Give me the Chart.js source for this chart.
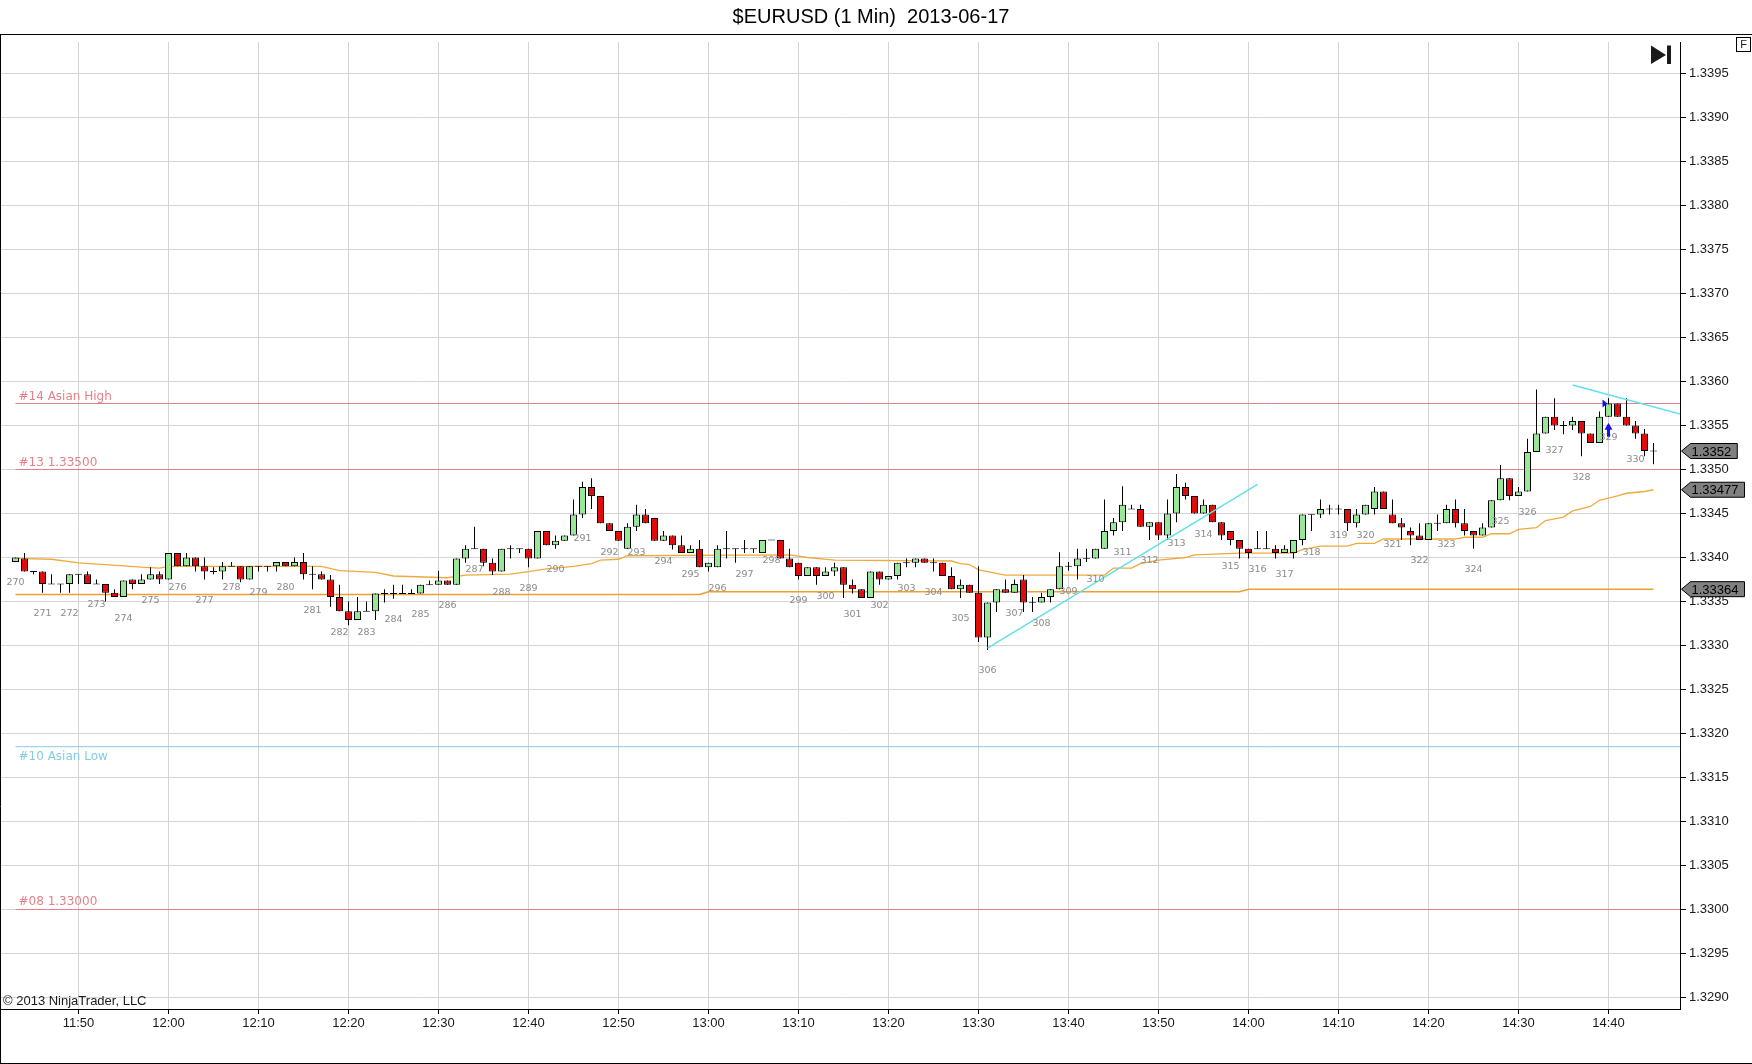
<!DOCTYPE html>
<html>
<head>
<meta charset="utf-8">
<script src="https://cdn.jsdelivr.net/npm/chart.js@4.4.1/dist/chart.umd.min.js"></script>
<style>
  html, body { margin: 0; padding: 0; background: #fff; }
  #wrap { width: 1752px; height: 1064px; position: relative; }
</style>
</head>
<body>
<div id="wrap"><canvas id="chart"></canvas></div>
<script>
// $EURUSD 1 minute bars, first bar at 11:43
const firstBar = '11:43';

const opens = [
  1.33395,1.33399,1.33384,1.33384,1.33370,1.33370,1.33370,1.33381,1.33381,1.33370,
  1.33370,1.33360,1.33355,1.33375,1.33370,1.33375,1.33381,1.33375,1.33405,1.33390,
  1.33400,1.33390,1.33384,1.33384,1.33390,1.33390,1.33375,1.33390,1.33390,1.33390,
  1.33395,1.33390,1.33395,1.33381,1.33381,1.33375,1.33355,1.33339,1.33329,1.33339,
  1.33339,1.33359,1.33359,1.33359,1.33359,1.33359,1.33369,1.33369,1.33374,1.33369,
  1.33399,1.33410,1.33410,1.33394,1.33384,1.33410,1.33410,1.33410,1.33399,1.33430,
  1.33414,1.33419,1.33425,1.33449,1.33480,1.33470,1.33439,1.33430,1.33410,1.33435,
  1.33449,1.33445,1.33419,1.33425,1.33414,1.33405,1.33410,1.33389,1.33389,1.33410,
  1.33410,1.33410,1.33410,1.33405,1.33420,1.33420,1.33399,1.33394,1.33379,1.33389,
  1.33379,1.33384,1.33389,1.33369,1.33364,1.33354,1.33384,1.33375,1.33379,1.33394,
  1.33394,1.33399,1.33394,1.33394,1.33379,1.33364,1.33369,1.33360,1.33309,1.33349,
  1.33364,1.33360,1.33375,1.33349,1.33349,1.33355,1.33364,1.33390,1.33390,1.33399,
  1.33399,1.33410,1.33430,1.33440,1.33455,1.33455,1.33435,1.33440,1.33425,1.33450,
  1.33480,1.33470,1.33450,1.33460,1.33440,1.33430,1.33420,1.33410,1.33410,1.33410,
  1.33410,1.33405,1.33405,1.33420,1.33449,1.33449,1.33455,1.33455,1.33455,1.33439,
  1.33449,1.33455,1.33475,1.33449,1.33439,1.33430,1.33425,1.33420,1.33439,1.33439,
  1.33455,1.33439,1.33430,1.33425,1.33434,1.33465,1.33490,1.33470,1.33475,1.33520,
  1.33541,1.33560,1.33550,1.33550,1.33555,1.33541,1.33530,1.33560,1.33575,1.33560,
  1.33550,1.33541,1.33521
];
const highs = [
  1.33400,1.33405,1.33384,1.33384,1.33381,1.33370,1.33381,1.33381,1.33384,1.33375,
  1.33370,1.33364,1.33374,1.33375,1.33381,1.33389,1.33384,1.33405,1.33405,1.33405,
  1.33400,1.33400,1.33389,1.33395,1.33395,1.33390,1.33390,1.33390,1.33390,1.33395,
  1.33395,1.33400,1.33405,1.33390,1.33384,1.33380,1.33369,1.33350,1.33355,1.33350,
  1.33359,1.33364,1.33369,1.33369,1.33364,1.33369,1.33374,1.33385,1.33374,1.33399,
  1.33414,1.33435,1.33410,1.33399,1.33410,1.33414,1.33410,1.33410,1.33430,1.33430,
  1.33425,1.33425,1.33466,1.33486,1.33490,1.33470,1.33439,1.33430,1.33439,1.33460,
  1.33455,1.33445,1.33430,1.33425,1.33425,1.33414,1.33420,1.33394,1.33414,1.33430,
  1.33410,1.33420,1.33410,1.33420,1.33420,1.33420,1.33410,1.33394,1.33389,1.33389,
  1.33389,1.33394,1.33389,1.33375,1.33364,1.33384,1.33384,1.33379,1.33394,1.33399,
  1.33399,1.33399,1.33399,1.33394,1.33389,1.33375,1.33369,1.33390,1.33349,1.33364,
  1.33375,1.33375,1.33380,1.33355,1.33360,1.33364,1.33406,1.33395,1.33410,1.33410,
  1.33410,1.33466,1.33445,1.33481,1.33460,1.33460,1.33440,1.33440,1.33466,1.33495,
  1.33485,1.33470,1.33466,1.33460,1.33440,1.33430,1.33420,1.33410,1.33430,1.33430,
  1.33414,1.33414,1.33420,1.33449,1.33449,1.33466,1.33460,1.33460,1.33455,1.33455,
  1.33460,1.33480,1.33475,1.33466,1.33445,1.33434,1.33439,1.33439,1.33449,1.33460,
  1.33466,1.33455,1.33430,1.33439,1.33465,1.33505,1.33490,1.33480,1.33535,1.33591,
  1.33560,1.33581,1.33555,1.33560,1.33555,1.33541,1.33566,1.33581,1.33575,1.33581,
  1.33555,1.33546,1.33530
];
const lows = [
  1.33395,1.33384,1.33381,1.33360,1.33370,1.33360,1.33360,1.33370,1.33370,1.33370,
  1.33350,1.33355,1.33355,1.33364,1.33370,1.33375,1.33370,1.33375,1.33390,1.33390,
  1.33384,1.33375,1.33381,1.33375,1.33390,1.33372,1.33375,1.33384,1.33384,1.33384,
  1.33390,1.33390,1.33375,1.33364,1.33375,1.33344,1.33339,1.33323,1.33329,1.33339,
  1.33329,1.33349,1.33353,1.33359,1.33359,1.33359,1.33369,1.33369,1.33369,1.33369,
  1.33394,1.33410,1.33390,1.33380,1.33384,1.33399,1.33405,1.33389,1.33399,1.33414,
  1.33410,1.33419,1.33425,1.33445,1.33455,1.33439,1.33430,1.33419,1.33410,1.33430,
  1.33439,1.33419,1.33419,1.33409,1.33405,1.33405,1.33389,1.33384,1.33389,1.33399,
  1.33394,1.33405,1.33405,1.33405,1.33420,1.33399,1.33389,1.33375,1.33379,1.33369,
  1.33379,1.33379,1.33354,1.33359,1.33354,1.33354,1.33369,1.33375,1.33375,1.33389,
  1.33389,1.33394,1.33384,1.33379,1.33364,1.33354,1.33360,1.33304,1.33295,1.33338,
  1.33360,1.33360,1.33338,1.33338,1.33349,1.33349,1.33364,1.33385,1.33375,1.33395,
  1.33399,1.33410,1.33425,1.33430,1.33455,1.33435,1.33420,1.33420,1.33420,1.33440,
  1.33466,1.33450,1.33450,1.33440,1.33420,1.33414,1.33399,1.33399,1.33410,1.33410,
  1.33399,1.33405,1.33399,1.33414,1.33430,1.33445,1.33449,1.33449,1.33430,1.33434,
  1.33449,1.33449,1.33455,1.33439,1.33420,1.33414,1.33420,1.33420,1.33430,1.33439,
  1.33434,1.33425,1.33410,1.33425,1.33434,1.33465,1.33465,1.33470,1.33475,1.33520,
  1.33541,1.33545,1.33540,1.33545,1.33515,1.33530,1.33530,1.33560,1.33560,1.33550,
  1.33535,1.33515,1.33506
];
const closes = [
  1.33400,1.33384,1.33384,1.33370,1.33370,1.33370,1.33381,1.33381,1.33370,1.33370,
  1.33360,1.33355,1.33374,1.33370,1.33375,1.33381,1.33375,1.33405,1.33390,1.33400,
  1.33390,1.33384,1.33384,1.33390,1.33390,1.33375,1.33390,1.33390,1.33390,1.33395,
  1.33390,1.33395,1.33381,1.33381,1.33375,1.33355,1.33339,1.33329,1.33339,1.33339,
  1.33359,1.33359,1.33359,1.33359,1.33359,1.33369,1.33369,1.33374,1.33369,1.33399,
  1.33410,1.33410,1.33394,1.33384,1.33410,1.33410,1.33410,1.33399,1.33430,1.33414,
  1.33419,1.33425,1.33449,1.33480,1.33470,1.33439,1.33430,1.33419,1.33435,1.33449,
  1.33439,1.33419,1.33425,1.33414,1.33405,1.33410,1.33389,1.33394,1.33410,1.33410,
  1.33410,1.33410,1.33410,1.33420,1.33420,1.33399,1.33389,1.33379,1.33389,1.33379,
  1.33384,1.33389,1.33369,1.33364,1.33354,1.33384,1.33375,1.33379,1.33394,1.33394,
  1.33399,1.33394,1.33394,1.33379,1.33364,1.33369,1.33360,1.33309,1.33349,1.33364,
  1.33360,1.33370,1.33349,1.33349,1.33355,1.33364,1.33390,1.33390,1.33399,1.33399,
  1.33410,1.33430,1.33440,1.33460,1.33455,1.33435,1.33440,1.33425,1.33450,1.33480,
  1.33470,1.33450,1.33460,1.33440,1.33425,1.33420,1.33410,1.33405,1.33410,1.33410,
  1.33405,1.33410,1.33420,1.33449,1.33449,1.33455,1.33455,1.33455,1.33439,1.33449,
  1.33460,1.33475,1.33455,1.33439,1.33434,1.33425,1.33420,1.33439,1.33439,1.33455,
  1.33439,1.33430,1.33425,1.33434,1.33465,1.33490,1.33470,1.33475,1.33520,1.33541,
  1.33560,1.33550,1.33550,1.33555,1.33541,1.33530,1.33560,1.33575,1.33560,1.33550,
  1.33541,1.33521,1.33521
];

// bar counter printed under every third bar
const countLabels = [
  270,271,272,273,274,275,276,277,278,279,280,281,282,283,284,285,286,287,288,289,
  290,291,292,293,294,295,296,297,298,299,300,301,302,303,304,305,306,307,308,309,
  310,311,312,313,314,315,316,317,318,319,320,321,322,323,324,325,326,327,328,329,330
];

// orange indicator lines (vertices)
const upperTimes = ['11:43','11:47','11:50','11:53','11:57','11:59','12:00','12:17','12:19','12:23',
  '12:25','12:31','12:33','12:38','12:40','12:42','12:45','12:47','12:48','12:50',
  '12:51','13:09','13:11','13:14','13:27','13:28','13:29','13:30','13:33','13:44',
  '13:45','13:47','13:48','13:50','13:53','13:54','13:59','14:05','14:06','14:08',
  '14:11','14:12','14:14','14:15','14:23','14:24','14:26','14:27','14:29','14:30',
  '14:32','14:33','14:35','14:36','14:38','14:39','14:41','14:42','14:44','14:45'];
const upperValues = [1.33399,1.33398,1.33394,1.33392,1.33389,1.33388,1.33390,1.33390,1.33385,1.33383,
  1.33379,1.33377,1.33380,1.33381,1.33384,1.33387,1.33390,1.33393,1.33397,1.33398,
  1.33402,1.33403,1.33400,1.33397,1.33396,1.33393,1.33392,1.33386,1.33380,1.33380,
  1.33388,1.33388,1.33393,1.33397,1.33400,1.33403,1.33405,1.33405,1.33409,1.33413,
  1.33413,1.33416,1.33416,1.33421,1.33421,1.33423,1.33423,1.33427,1.33427,1.33432,
  1.33434,1.33442,1.33446,1.33453,1.33458,1.33465,1.33470,1.33473,1.33475,1.33477];
const lowerTimes = ['11:43','12:59','13:00','13:59','14:00','14:45'];
const lowerValues = [1.33358,1.33358,1.33361,1.33361,1.33364,1.33364];

// cyan trend lines
const trendATimes = ['13:31','14:01'];
const trendAValues = [1.33297,1.33483];
const trendBTimes = ['14:36','14:48'];
const trendBValues = [1.33596,1.33563];

// horizontal levels
const levelValues = [1.33575, 1.33500, 1.33185, 1.33000];
const levelNames = ['#14 Asian High', '#13 1.33500', '#10 Asian Low', '#08 1.33000'];

// long entry
const entryTime = '14:40';
const entryPrice = 1.33575;

const xTickLabels = ['11:50','12:00','12:10','12:20','12:30','12:40','12:50','13:00','13:10',
  '13:20','13:30','13:40','13:50','14:00','14:10','14:20','14:30','14:40'];
const yTicks = [1.3290,1.3295,1.3300,1.3305,1.3310,1.3315,1.3320,1.3325,1.3330,1.3335,1.3340,
  1.3345,1.3350,1.3355,1.3360,1.3365,1.3370,1.3375,1.3380,1.3385,1.3390,1.3395];

const UP = '#98e698', DOWN = '#e20a0a', ORANGE = '#f0aa3c', CYAN = '#5fe1ec';
const LEVEL_RED = '#e5808a', LEVEL_BLUE = '#86cbe3';
const levelColors = [LEVEL_RED, LEVEL_RED, LEVEL_BLUE, LEVEL_RED];
const levelTextOffset = [-4, -4, 13, -4]; // Asian Low text sits under its line

function barIndex(t) {
  const [h, m] = t.split(':').map(Number);
  const [h0, m0] = firstBar.split(':').map(Number);
  return h * 60 + m - (h0 * 60 + m0);
}
function pts(times, values) {
  return times.map((t, i) => ({x: barIndex(t), y: values[i]}));
}

const xMin = -1.6111, xMax = 184.944;
const yMin = 1.3288693, yMax = 1.3398580;

const bodyData = [], wickData = [], bodyColors = [];
for (let i = 0; i < opens.length; i++) {
  const o = opens[i], c = closes[i];
  let lo = Math.min(o, c), hi = Math.max(o, c);
  if (hi - lo < 0.000009) { const m = (hi + lo) / 2; lo = m - 0.0000055; hi = m + 0.0000055; }
  bodyData.push({x: i, y: [lo, hi]});
  wickData.push({x: i, y: [lows[i], highs[i]]});
  bodyColors.push(c > o ? UP : (c < o ? DOWN : '#000'));
}

const datasets = [];
levelValues.forEach((v, i) => {
  datasets.push({type: 'line', data: [{x: 0, y: v}, {x: xMax + 1, y: v}], borderColor: levelColors[i],
    borderWidth: 1, pointRadius: 0, order: 6});
});
datasets.push({type: 'line', data: pts(upperTimes, upperValues), borderColor: ORANGE, borderWidth: 1.3,
  pointRadius: 0, tension: 0, order: 5});
datasets.push({type: 'line', data: pts(lowerTimes, lowerValues), borderColor: '#eba030', borderWidth: 1.6,
  pointRadius: 0, tension: 0, order: 5});
datasets.push({type: 'bar', data: wickData, backgroundColor: '#000', borderWidth: 0, barThickness: 1,
  grouped: false, inflateAmount: 0, order: 2});
datasets.push({type: 'bar', data: bodyData, backgroundColor: bodyColors, borderColor: '#000', borderWidth: 1,
  borderSkipped: false, barThickness: 7, grouped: false, inflateAmount: 0, order: 1});
datasets.push({type: 'line', data: pts(trendATimes, trendAValues), borderColor: CYAN, borderWidth: 1.5,
  pointRadius: 0, order: 0});
datasets.push({type: 'line', data: pts(trendBTimes, trendBValues), borderColor: CYAN, borderWidth: 1.5,
  pointRadius: 0, order: 0});

function priceBox(ctx, y, text) {
  ctx.font = '13px Arial';
  const x0 = 1681.5, tw = ctx.measureText(text).width;
  const xr = x0 + 10 + tw + 6;
  ctx.beginPath();
  ctx.moveTo(x0, y);
  ctx.lineTo(x0 + 9, y - 7.5);
  ctx.lineTo(xr, y - 7.5);
  ctx.lineTo(xr, y + 7.5);
  ctx.lineTo(x0 + 9, y + 7.5);
  ctx.closePath();
  ctx.fillStyle = '#808080';
  ctx.fill();
  ctx.strokeStyle = '#000';
  ctx.lineWidth = 1;
  ctx.stroke();
  ctx.fillStyle = '#000';
  ctx.textAlign = 'left';
  ctx.textBaseline = 'middle';
  ctx.fillText(text, x0 + 10, y + 1);
}

const overlay = {
  id: 'overlay',
  afterDatasetsDraw(chart) {
    const ctx = chart.ctx, xs = chart.scales.x, ys = chart.scales.y;
    ctx.save();
    ctx.beginPath();
    ctx.rect(chart.chartArea.left, chart.chartArea.top, chart.chartArea.right - chart.chartArea.left,
      chart.chartArea.bottom - chart.chartArea.top);
    ctx.clip();
    // level names
    ctx.font = '12px "DejaVu Sans", Verdana, sans-serif';
    ctx.textAlign = 'left';
    ctx.textBaseline = 'alphabetic';
    levelValues.forEach((v, i) => {
      ctx.fillStyle = levelColors[i];
      ctx.fillText(levelNames[i], xs.getPixelForValue(0) + 3, ys.getPixelForValue(v) + levelTextOffset[i]);
    });
    // bar counter
    ctx.font = '9.5px "DejaVu Sans", Verdana, sans-serif';
    ctx.fillStyle = '#8a8a8a';
    ctx.textAlign = 'center';
    ctx.textBaseline = 'middle';
    countLabels.forEach((n, i) => {
      const k = i * 3;
      ctx.fillText(String(n), xs.getPixelForValue(k), ys.getPixelForValue(lows[k]) + 21);
    });
    // entry marker and arrow
    const ek = barIndex(entryTime);
    const ex = xs.getPixelForValue(ek), ey = ys.getPixelForValue(entryPrice);
    ctx.fillStyle = '#1414e6';
    ctx.beginPath();
    ctx.moveTo(ex - 6, ey - 4); ctx.lineTo(ex - 1, ey); ctx.lineTo(ex - 6, ey + 4); ctx.closePath();
    ctx.fill();
    const ay = ys.getPixelForValue(lows[ek]) + 6;
    ctx.beginPath();
    ctx.moveTo(ex, ay); ctx.lineTo(ex + 4, ay + 7); ctx.lineTo(ex - 4, ay + 7); ctx.closePath();
    ctx.fill();
    ctx.fillRect(ex - 1.5, ay + 6, 3, 8);
    ctx.restore();
  },
  afterDraw(chart) {
    const ctx = chart.ctx, ys = chart.scales.y;
    ctx.save();
    // frame
    ctx.strokeStyle = '#000';
    ctx.lineWidth = 1;
    ctx.beginPath();
    ctx.moveTo(0, 34.5); ctx.lineTo(1752, 34.5);
    ctx.moveTo(0.5, 34); ctx.lineTo(0.5, 1064);
    ctx.moveTo(0, 1063.5); ctx.lineTo(1752, 1063.5);
    ctx.stroke();
    // title
    ctx.fillStyle = '#000';
    ctx.font = '20px Arial';
    ctx.textAlign = 'center';
    ctx.textBaseline = 'middle';
    ctx.fillText('$EURUSD (1 Min)  2013-06-17', 871, 17);
    // copyright
    ctx.font = '13px Arial';
    ctx.textAlign = 'left';
    ctx.textBaseline = 'alphabetic';
    ctx.fillStyle = '#1a1a1a';
    ctx.fillText('\u00a9 2013 NinjaTrader, LLC', 3, 1005);
    // F box and go-to-end button
    ctx.strokeRect(1736.5, 37.5, 14, 14);
    ctx.font = '11px Arial';
    ctx.textAlign = 'center';
    ctx.textBaseline = 'middle';
    ctx.fillText('F', 1743.5, 45);
    ctx.beginPath();
    ctx.moveTo(1651, 45.5); ctx.lineTo(1666, 55); ctx.lineTo(1651, 64); ctx.closePath();
    ctx.fill();
    ctx.fillRect(1667, 45.5, 4, 18.5);
    // price markers
    priceBox(ctx, ys.getPixelForValue(closes[closes.length - 1]), closes[closes.length - 1].toFixed(4));
    priceBox(ctx, ys.getPixelForValue(upperValues[upperValues.length - 1]), upperValues[upperValues.length - 1].toFixed(5));
    priceBox(ctx, ys.getPixelForValue(lowerValues[lowerValues.length - 1]), lowerValues[lowerValues.length - 1].toFixed(5));
    ctx.restore();
  }
};

new Chart(document.getElementById('chart'), {
  type: 'bar',
  data: {datasets: datasets},
  options: {
    responsive: true,
    maintainAspectRatio: false,
    animation: false,
    layout: {padding: {top: 42, left: 1, right: 0, bottom: 0}},
    plugins: {legend: {display: false}, tooltip: {enabled: false}, title: {display: false}},
    scales: {
      x: {
        type: 'linear', min: xMin, max: xMax, offset: false,
        grid: {color: '#d4d4d4', tickColor: '#000', tickLength: 5, offset: false},
        border: {display: true, color: '#000'},
        ticks: {autoSkip: false, maxRotation: 0, padding: 2, color: '#1a1a1a',
          font: {family: 'Arial', size: 13}, callback: (v, i) => xTickLabels[i]},
        afterBuildTicks: s => { s.ticks = xTickLabels.map(t => ({value: barIndex(t)})); },
        afterFit: s => { s.height = 55; }
      },
      y: {
        type: 'linear', position: 'right', min: yMin, max: yMax,
        grid: {color: '#d4d4d4', tickColor: '#000', tickLength: 6},
        border: {display: true, color: '#000'},
        ticks: {autoSkip: false, padding: 3, color: '#1a1a1a',
          font: {family: 'Arial', size: 13}, callback: v => v.toFixed(4)},
        afterBuildTicks: s => { s.ticks = yTicks.map(v => ({value: v})); },
        afterFit: s => { s.width = 72; }
      }
    }
  },
  plugins: [overlay]
});
</script>
</body>
</html>
